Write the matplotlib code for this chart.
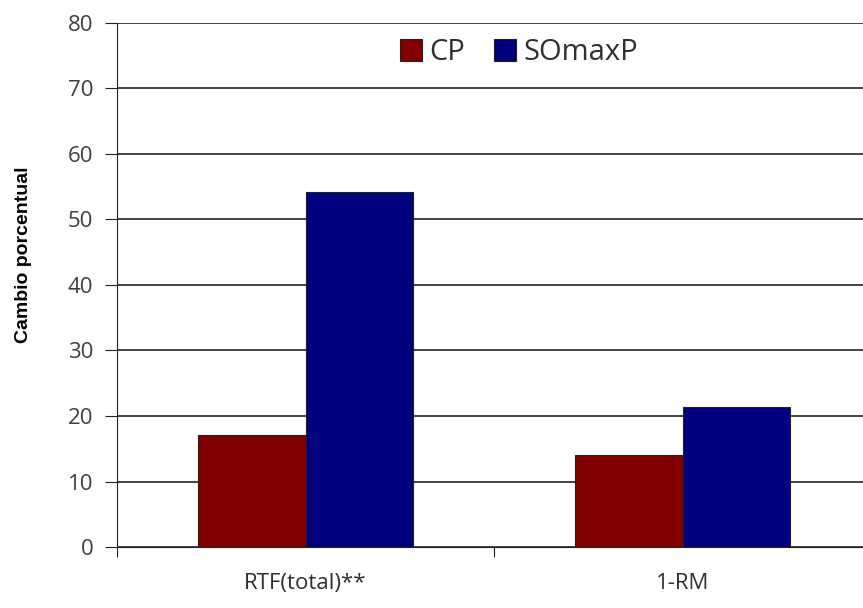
import numpy as np
import matplotlib.pyplot as plt

# Percent change per test
categories = ['RTF(total)**', '1-RM']
cp_values = [17.1, 14.0]
somaxp_values = [54.2, 21.4]
series_names = ['CP', 'SOmaxP']

plt.rcParams['font.family'] = ['Open Sans', 'DejaVu Sans']

fig = plt.figure(figsize=(8.63, 6.08), dpi=100)
ax = fig.add_axes([0.1356, 0.1003, 0.874, 0.862])

x = np.arange(len(categories)) + 0.5
w = 0.285
ax.bar(x - w / 2, cp_values, w, color='#800000', edgecolor='#222222', linewidth=0.8,
       label=series_names[0], zorder=3)
ax.bar(x + w / 2, somaxp_values, w, color='#000080', edgecolor='#222222', linewidth=0.8,
       label=series_names[1], zorder=3)

ax.set_xlim(0, len(categories))
ax.set_ylim(0, 80)
ax.set_yticks(np.arange(0, 81, 10))
ax.yaxis.grid(True, color='#222222', linewidth=1.2, zorder=0)

# category separators as major ticks, names on minor ticks
ax.set_xticks(np.arange(len(categories) + 1))
ax.set_xticklabels([])
ax.set_xticks(x, minor=True)
ax.set_xticklabels(categories, minor=True)
ax.tick_params(axis='x', which='minor', length=0, pad=19, labelsize=16, labelcolor='#303030')
ax.tick_params(axis='x', which='major', length=7, direction='out', color='#222222')
ax.tick_params(axis='y', length=9, direction='out', color='#222222', pad=8,
               labelsize=16, labelcolor='#404040')

for side in ['top', 'right']:
    ax.spines[side].set_visible(False)
ax.spines['left'].set_color('#222222')
ax.spines['bottom'].set_color('#222222')

ax.set_ylabel('Cambio porcentual', fontsize=14, fontweight='bold',
              family=['Liberation Sans', 'DejaVu Sans'])
ax.yaxis.set_label_coords(-0.113, 0.557)

leg = ax.legend(loc='center', bbox_to_anchor=(0.533, 0.943), ncol=2, frameon=True,
                fontsize=21, handlelength=0.75, handleheight=0.75, handletextpad=0.25,
                columnspacing=1.0, borderpad=0.2, edgecolor='none', facecolor='white',
                framealpha=1)
for t in leg.get_texts():
    t.set_color('#303030')

fig.savefig('out.png', dpi=100, facecolor='white')
